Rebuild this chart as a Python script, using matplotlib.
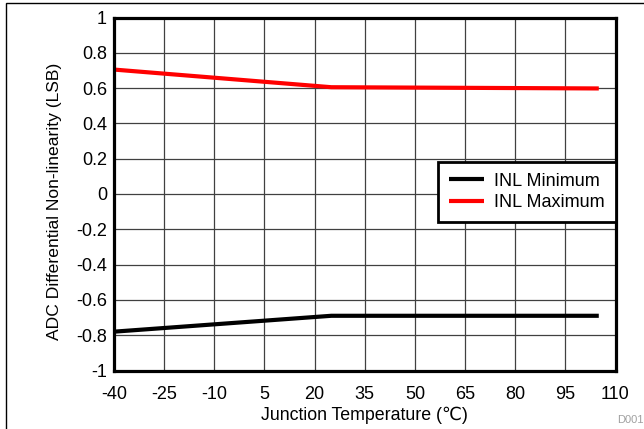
import matplotlib
matplotlib.use("Agg")
import matplotlib.pyplot as plt
from matplotlib.patches import Rectangle

plt.rcParams['font.family'] = ['Liberation Sans', 'DejaVu Sans']
plt.rcParams['axes.unicode_minus'] = False

# data
temp = [-40, 25, 105]
inl_min = [-0.78, -0.69, -0.69]
inl_max = [0.705, 0.605, 0.598]

x_ticks = list(range(-40, 111, 15))
y_ticks = [-1, -0.8, -0.6, -0.4, -0.2, 0, 0.2, 0.4, 0.6, 0.8, 1]
y_labels = ['-1', '-0.8', '-0.6', '-0.4', '-0.2', '0', '0.2', '0.4', '0.6', '0.8', '1']

fig = plt.figure(figsize=(6.44, 4.29), dpi=100)
ax = fig.add_axes([114 / 644, 1 - 370.5 / 429, 501.5 / 644, 353 / 429])

ax.plot(temp, inl_min, color='black', lw=3.0, label='INL Minimum', solid_capstyle='butt', zorder=3)
ax.plot(temp, inl_max, color='#ff0000', lw=3.0, label='INL Maximum', solid_capstyle='butt', zorder=3)

ax.set_xlim(-40, 110)
ax.set_ylim(-1, 1)
ax.set_xticks(x_ticks)
ax.set_yticks(y_ticks)
ax.set_yticklabels(y_labels)
ax.tick_params(length=0, labelsize=13)
ax.tick_params(axis='x', pad=11.5)
ax.tick_params(axis='y', pad=5)
ax.grid(True, color='#404040', lw=0.9)
ax.set_axisbelow(True)
for s in ax.spines.values():
    s.set_linewidth(2.3)
    s.set_zorder(4)

ax.set_xlabel('Junction Temperature (\u2103)', fontsize=12.8, labelpad=2)
ax.set_ylabel('ADC Differential Non-linearity (LSB)', fontsize=12.6, labelpad=10)
ax.yaxis.label.set_y(0.48)

leg = ax.legend(loc='upper right', bbox_to_anchor=(1.0, 0.591), fontsize=13,
                fancybox=False, framealpha=1, edgecolor='black', handlelength=1.95,
                handletextpad=0.55, borderpad=0.6, labelspacing=0.25, borderaxespad=0)
leg.get_frame().set_linewidth(2)
leg.set_zorder(5)

fig.text(1.0, 4 / 429, 'D001', color='#a0a0a0', fontsize=8, ha='right', va='bottom')

# thin frame around the figure
fig.patches.append(Rectangle((6 / 644, -0.1), 1.2, 1.1 - 3 / 429, transform=fig.transFigure,
                             fill=False, edgecolor='black', lw=1))

fig.savefig('out.png', dpi=100)
